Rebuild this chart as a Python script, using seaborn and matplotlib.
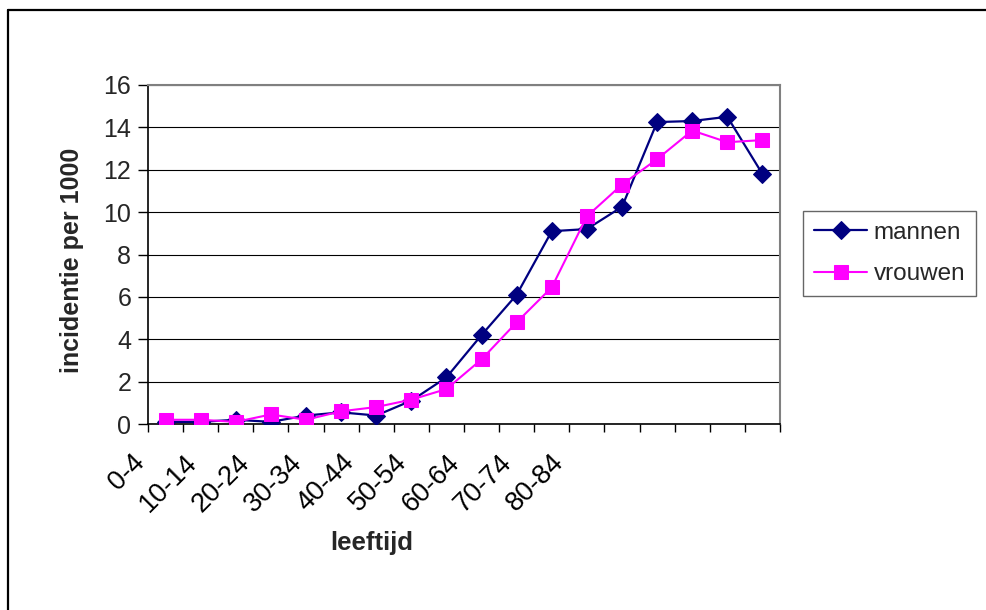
import numpy as np
import pandas as pd
import matplotlib
matplotlib.use("Agg")
import matplotlib.pyplot as plt
import matplotlib.transforms as mtransforms
import seaborn as sns
from matplotlib.lines import Line2D

# ---- data ----
categories = ['0-4', '5-9', '10-14', '15-19', '20-24', '25-29', '30-34', '35-39',
              '40-44', '45-49', '50-54', '55-59', '60-64', '65-69', '70-74',
              '75-79', '80-84', '85+']
mannen = [0.1, 0.1, 0.2, 0.1, 0.4, 0.55, 0.4, 1.1, 2.2, 4.2, 6.1, 9.1,
          9.2, 10.25, 14.25, 14.3, 14.5, 11.8]
vrouwen = [0.2, 0.2, 0.1, 0.45, 0.2, 0.6, 0.8, 1.15, 1.65, 3.05, 4.8, 6.45,
           9.8, 11.3, 12.5, 13.85, 13.3, 13.4]
tick_labels = categories[::2]
yticks = [0, 2, 4, 6, 8, 10, 12, 14, 16]

sns.set_theme(style="white")
plt.rcParams['font.family'] = ['Liberation Sans', 'DejaVu Sans']

W, H = 987, 610
fig = plt.figure(figsize=(W / 100, H / 100), dpi=100)
ax = fig.add_axes([148 / W, 1 - 424 / H, (780 - 148) / W, (424 - 85) / H])

pos = np.arange(len(categories))
df = pd.DataFrame({
    'pos': np.concatenate([pos, pos]),
    'waarde': mannen + vrouwen,
    'geslacht': ['mannen'] * len(pos) + ['vrouwen'] * len(pos),
})

sns.lineplot(data=df[df.geslacht == 'mannen'], x='pos', y='waarde', ax=ax,
             color='#000080', marker='D', markersize=9.5, linewidth=1.6,
             markeredgecolor='#000080', label='mannen', zorder=3)
sns.lineplot(data=df[df.geslacht == 'vrouwen'], x='pos', y='waarde', ax=ax,
             color='#FF00FF', marker='s', markersize=10.5, linewidth=1.5,
             markeredgecolor='#FF00FF', label='vrouwen', zorder=4)

ax.set_yticks(yticks)
ax.set_yticklabels([str(v) for v in yticks])
ax.yaxis.grid(True, color='black', linewidth=0.8)
ax.set_axisbelow(True)

# x ticks: marks at category boundaries, no major tick labels
ax.set_xticks(np.arange(-0.5, len(categories), 1.0), minor=True)
ax.set_xticks([])
ax.tick_params(axis='x', which='minor', bottom=True, length=6, width=1,
               direction='out', color='black')
ax.tick_params(axis='y', which='major', left=True, length=7, width=1,
               direction='out', color='black', pad=5, labelsize=18)
ax.set_xlim(-0.5, len(categories) - 0.5)
ax.set_ylim(0, 16)

# staggered, rotated category labels as in the original
blend = mtransforms.blended_transform_factory(ax.transData, ax.transAxes)
for i, lab in enumerate(tick_labels):
    ax.text(-0.98 + 1.495 * i, -0.075, lab, transform=blend, rotation=45,
            rotation_mode='anchor', ha='right', va='top', fontsize=19.5,
            color='black', clip_on=False)

for s in ['left', 'bottom']:
    ax.spines[s].set_color('black')
    ax.spines[s].set_linewidth(1.2)
for s in ['top', 'right']:
    ax.spines[s].set_color('#808080')
    ax.spines[s].set_linewidth(1.5)

ax.set_ylabel('incidentie per 1000', fontsize=18, fontweight='bold',
              va='center', ha='center')
ax.yaxis.set_label_coords(-0.12, 0.484)
ax.set_xlabel('leeftijd', fontsize=18.5, fontweight='bold', va='center',
              ha='center')
ax.xaxis.set_label_coords(0.354, -0.351)

leg = ax.legend(loc='upper left', bbox_to_anchor=(803 / W, 1 - 211 / H),
                bbox_transform=fig.transFigure, fontsize=17.5, frameon=True,
                fancybox=False, edgecolor='#404040', handlelength=2.2,
                handletextpad=0.25, labelspacing=0.8, borderpad=0.45,
                borderaxespad=0)
leg.get_frame().set_linewidth(1.0)

# outer chart frame (top and left edges visible)
fig.add_artist(Line2D([8 / W, 1.0], [1 - 10 / H, 1 - 10 / H],
                      transform=fig.transFigure, color='black', linewidth=1.6))
fig.add_artist(Line2D([8 / W, 8 / W], [0, 1 - 10 / H],
                      transform=fig.transFigure, color='black', linewidth=1.6))

fig.savefig('out.png', dpi=100, facecolor='white')
